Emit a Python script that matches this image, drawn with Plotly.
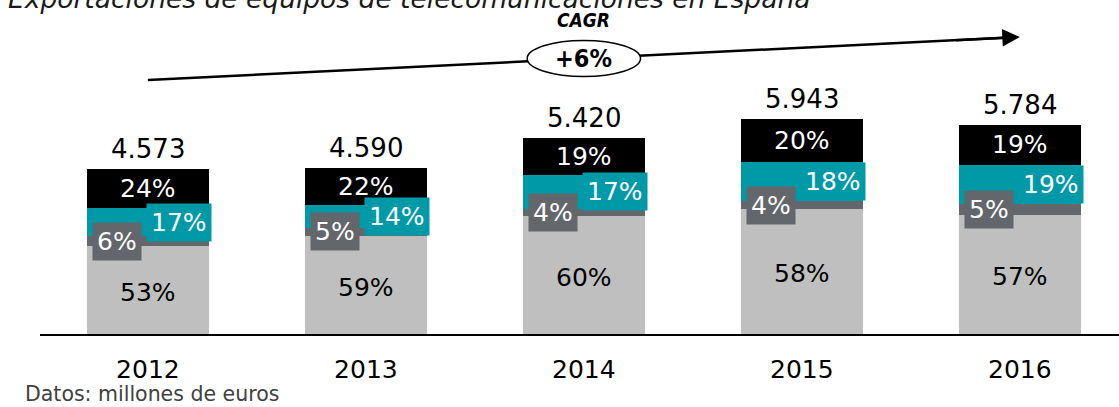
import plotly.graph_objects as go

# data (millones de euros)
years = ["2012", "2013", "2014", "2015", "2016"]
totals = [4573, 4590, 5420, 5943, 5784]
share_light = [53, 59, 60, 58, 57]
share_dark = [6, 5, 4, 4, 5]
share_teal = [17, 14, 17, 18, 19]
share_black = [24, 22, 19, 20, 19]
cagr_label = "+6%"

LIGHT = "#BFBFBF"
DARK = "#63666A"
TEAL = "#0099A8"
BLACK = "#000000"
FONT = "Verdana, DejaVu Sans, sans-serif"

W, H = 1119, 407
ML, MB = 40, 73
PLOT_H = H - MB
YMAX = 9235


def ypx(p):
    # pixel row -> data value on the y axis
    return (PLOT_H - p) * YMAX / PLOT_H


def paper_x(p):
    return (p - ML) / (W - ML)


def paper_y(p):
    return (PLOT_H - p) / PLOT_H


def fmt(v):
    return f"{v:,}".replace(",", ".")


series = [
    (share_light, LIGHT),
    (share_dark, DARK),
    (share_teal, TEAL),
    (share_black, BLACK),
]

fig = go.Figure()
for shares, color in series:
    fig.add_trace(go.Bar(
        x=years,
        y=[t * s / 100 for t, s in zip(totals, shares)],
        marker=dict(color=color, line=dict(width=0)),
        width=0.56,
        showlegend=False,
        hoverinfo="skip",
    ))

annotations = []
for i in range(len(years)):
    t = totals[i]
    base = 0
    mids = []
    for shares, color in series:
        v = t * shares[i] / 100
        mids.append(base + v / 2)
        base += v
    # value on top of the bar
    annotations.append(dict(x=i, y=t, text=fmt(t), showarrow=False,
                            yanchor="bottom", yshift=3,
                            font=dict(size=26, color="black", family=FONT)))
    # light grey and black segments: label centred
    annotations.append(dict(x=i, y=mids[0], text=f"{share_light[i]}%", showarrow=False,
                            yshift=-2,
                            font=dict(size=25, color="black", family=FONT)))
    annotations.append(dict(x=i, y=mids[3], text=f"{share_black[i]}%", showarrow=False,
                            font=dict(size=25, color="white", family=FONT)))
    # small segments: boxed labels shifted sideways
    annotations.append(dict(x=i, y=mids[1], text=f"{share_dark[i]}%", showarrow=False,
                            xshift=-31, bgcolor=DARK, borderpad=4,
                            font=dict(size=25, color="white", family=FONT)))
    annotations.append(dict(x=i, y=mids[2], text=f"{share_teal[i]}%", showarrow=False,
                            xshift=31, bgcolor=TEAL, borderpad=4,
                            font=dict(size=25, color="white", family=FONT)))

# CAGR arrow
x0, y0 = 0, ypx(80)
x1, y1 = 4, ypx(37)
cx = 2
cy = y0 + (y1 - y0) * (cx - x0) / (x1 - x0)
shapes = [
    dict(type="line", xref="x", yref="y", x0=x0, y0=y0, x1=x1 - 0.05,
         y1=y0 + (y1 - y0) * (x1 - 0.05 - x0) / (x1 - x0),
         line=dict(color="black", width=2.5), layer="above"),
    dict(type="circle", xref="x", yref="y", x0=cx - 0.26, x1=cx + 0.26,
         y0=cy - 18 * YMAX / PLOT_H, y1=cy + 18 * YMAX / PLOT_H,
         fillcolor="white", line=dict(color="black", width=1.5), layer="above"),
]
annotations.append(dict(x=x1, y=y1, ax=x1 - 0.3, ay=y0 + (y1 - y0) * (x1 - 0.3 - x0) / (x1 - x0),
                        xref="x", yref="y", axref="x", ayref="y", text="",
                        showarrow=True, arrowhead=2, arrowsize=1.4, arrowwidth=2.5,
                        arrowcolor="black", standoff=0))
annotations.append(dict(x=cx, y=cy, text="<b>" + cagr_label + "</b>", showarrow=False,
                        font=dict(size=25, color="black", family="DejaVu Sans Condensed, DejaVu Sans")))
annotations.append(dict(x=cx, y=ypx(20), text="<b><i>CAGR</i></b>", showarrow=False,
                        font=dict(size=19, color="black", family="DejaVu Sans Condensed, DejaVu Sans")))

# title (cut at the top, as in the source) and source note
annotations.append(dict(xref="paper", yref="paper", x=paper_x(6), y=paper_y(-2),
                        xanchor="left", yanchor="middle", showarrow=False,
                        text="<i>Exportaciones de equipos de telecomunicaciones en España</i>",
                        font=dict(size=26.5, color="#1a1a1a", family=FONT)))
annotations.append(dict(xref="paper", yref="paper", x=paper_x(23), y=paper_y(394),
                        xanchor="left", yanchor="middle", showarrow=False,
                        text="Datos: millones de euros",
                        font=dict(size=20.5, color="#404040", family=FONT)))

fig.update_layout(
    width=W, height=H,
    margin=dict(l=ML, r=0, t=0, b=MB),
    barmode="stack",
    plot_bgcolor="white",
    paper_bgcolor="white",
    annotations=annotations,
    shapes=shapes,
    xaxis=dict(type="category", range=[-0.495, 4.455], showline=True,
               linecolor="black", linewidth=2, showgrid=False, zeroline=False,
               ticks="outside", ticklen=12, tickcolor="rgba(0,0,0,0)",
               tickfont=dict(size=25, color="black", family=FONT)),
    yaxis=dict(range=[0, YMAX], visible=False, showgrid=False, zeroline=False),
)

# drop the page's default body margin so the chart sits at the window's corner
fig.write_html("out.html", config={"displayModeBar": False},
               post_script="document.body.style.margin='0';")
